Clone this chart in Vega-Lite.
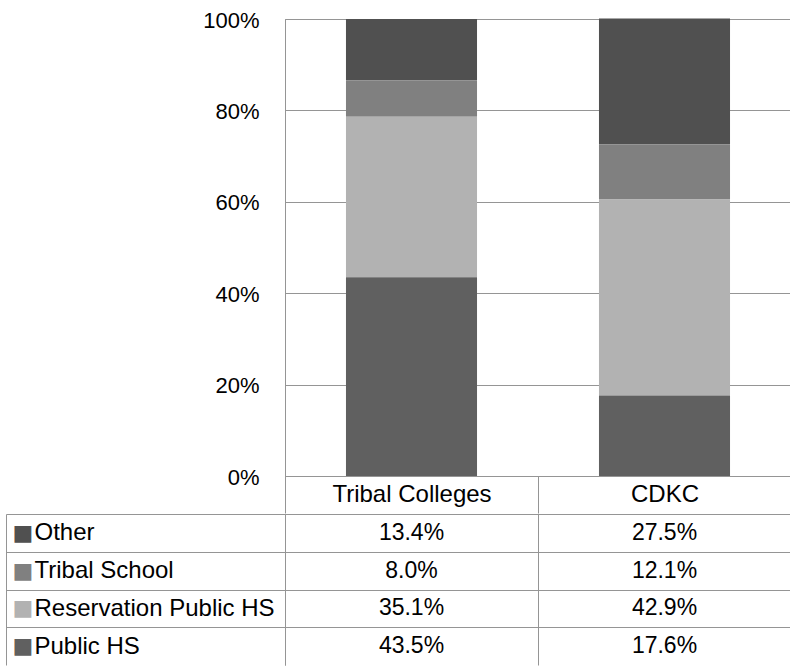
{
  "$schema": "https://vega.github.io/schema/vega-lite/v6.json",
  "padding": {"left": 5, "top": 8, "right": 0, "bottom": 0},
  "background": "#ffffff",
  "config": {
    "view": {"stroke": "#959595", "strokeWidth": 1},
    "font": "Liberation Sans",
    "concat": {"spacing": 0}
  },
  "data": {
    "values": [
      {"school": "Tribal Colleges", "series": "Other", "value": 0.134, "k": 4},
      {"school": "Tribal Colleges", "series": "Tribal School", "value": 0.080, "k": 3},
      {"school": "Tribal Colleges", "series": "Reservation Public HS", "value": 0.351, "k": 2},
      {"school": "Tribal Colleges", "series": "Public HS", "value": 0.435, "k": 1},
      {"school": "CDKC", "series": "Other", "value": 0.275, "k": 4},
      {"school": "CDKC", "series": "Tribal School", "value": 0.121, "k": 3},
      {"school": "CDKC", "series": "Reservation Public HS", "value": 0.429, "k": 2},
      {"school": "CDKC", "series": "Public HS", "value": 0.176, "k": 1}
    ]
  },
  "spacing": -15,
  "resolve": {"scale": {"x": "independent", "y": "independent", "color": "independent"}},
  "vconcat": [
    {
      "width": 506,
      "height": 457,
      "mark": {"type": "bar", "width": {"band": 0.518}},
      "encoding": {
        "x": {
          "field": "school", "type": "nominal", "sort": ["Tribal Colleges", "CDKC"],
          "scale": {"paddingInner": 0, "paddingOuter": 0},
          "axis": {
            "title": null, "labelAngle": 0, "labelFont": "Liberation Sans", "labelFontSize": 24,
            "labelColor": "#000000", "tickBand": "extent", "tickSize": 37, "tickColor": "#959595",
            "domainColor": "#959595", "labelPadding": -19, "labelBaseline": "middle"
          }
        },
        "y": {
          "field": "value", "type": "quantitative", "stack": "zero",
          "scale": {"domain": [0, 1]},
          "axis": {
            "title": null, "format": ".0%", "values": [0, 0.2, 0.4, 0.6, 0.8, 1],
            "labelFont": "Liberation Sans", "labelFontSize": 22, "labelColor": "#000000",
            "ticks": false, "labelPadding": 26, "labelOffset": 1,
            "domainColor": "#959595", "gridColor": "#959595"
          }
        },
        "color": {
          "field": "series", "type": "nominal",
          "scale": {"domain": ["Other", "Tribal School", "Reservation Public HS", "Public HS"],
                    "range": ["#505050", "#808080", "#b2b2b2", "#606060"]},
          "legend": null
        },
        "order": {"field": "k", "type": "quantitative"}
      }
    },
    {
      "width": 506,
      "height": 151,
      "view": {"stroke": null},
      "resolve": {"axis": {"y": "independent"}},
      "layer": [
        {
          "mark": {"type": "text", "font": "Liberation Sans", "fontSize": 23, "color": "#000000"},
          "encoding": {
            "x": {
              "field": "school", "type": "nominal", "sort": ["Tribal Colleges", "CDKC"],
              "scale": {"paddingInner": 0, "paddingOuter": 0},
              "axis": {"orient": "bottom", "title": null, "labels": false, "ticks": false, "domain": false,
                       "grid": true, "tickBand": "extent", "gridColor": "#959595"}
            },
            "y": {
              "field": "series", "type": "nominal",
              "sort": ["Other", "Tribal School", "Reservation Public HS", "Public HS"],
              "scale": {"paddingInner": 0, "paddingOuter": 0},
              "axis": {
                "orient": "left", "title": null, "grid": true, "tickBand": "extent",
                "gridColor": {"condition": {"test": "datum.value === 'Public HS'", "value": "transparent"}, "value": "#959595"},
                "tickColor": {"condition": {"test": "datum.value === 'Public HS'", "value": "transparent"}, "value": "#959595"},
                "tickSize": 279, "domainColor": "#959595",
                "labelAlign": "left", "labelPadding": -28, "labelLimit": 400,
                "labelFont": "Liberation Sans", "labelFontSize": 24, "labelColor": "#000000"
              }
            },
            "text": {"field": "value", "type": "quantitative", "format": ".1%"}
          }
        },
        {
          "mark": {"type": "point", "opacity": 0},
          "encoding": {
            "y": {
              "field": "series", "type": "nominal",
              "sort": ["Other", "Tribal School", "Reservation Public HS", "Public HS"],
              "axis": {
                "orient": "left", "offset": 279, "title": null, "grid": false, "ticks": false,
                "domain": true, "domainColor": "#959595",
                "labelExpr": "'■'", "labelAlign": "left", "labelPadding": -6,
                "labelFont": "DejaVu Sans", "labelFontSize": 22,
                "labelColor": {
                  "condition": [
                    {"test": "datum.value === 'Tribal School'", "value": "#808080"},
                    {"test": "datum.value === 'Reservation Public HS'", "value": "#b2b2b2"},
                    {"test": "datum.value === 'Public HS'", "value": "#606060"}
                  ],
                  "value": "#505050"
                }
              }
            }
          }
        }
      ]
    }
  ]
}
